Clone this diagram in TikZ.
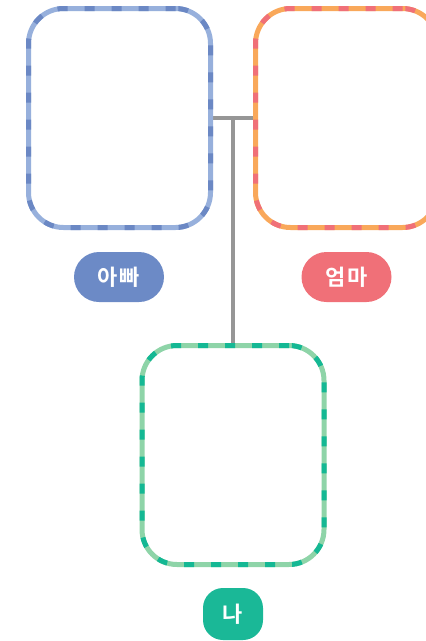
\documentclass[tikz,border=0pt]{standalone}
\usepackage{fontspec}
\usepackage{tikz}
\usetikzlibrary{backgrounds,calc}

\newfontfamily\krfont{Noto Sans CJK KR}[BoldFont={* Bold}, LetterSpace=8]

\definecolor{dadlight}{HTML}{97B0DC}
\definecolor{daddark}{HTML}{6B88C4}
\definecolor{dadpill}{HTML}{6C8AC6}
\definecolor{momlight}{HTML}{F9A85A}
\definecolor{momdark}{HTML}{F07078}
\definecolor{mompill}{HTML}{F07078}
\definecolor{melight}{HTML}{8ED4A8}
\definecolor{medark}{HTML}{14B894}
\definecolor{mepill}{HTML}{1AB897}
\definecolor{linkgray}{HTML}{969696}

\tikzset{
    frame/.style={draw=#1light, fill=white, line width=5pt, rounded corners=35pt,
        minimum width=182pt, minimum height=219pt,
        postaction={draw=#1dark, line width=5pt, dash pattern=on 10pt off 17pt}},
    pill/.style={fill=#1pill, text=white, rounded corners=25pt, inner sep=0pt,
        minimum width=90pt, minimum height=50pt,
        font=\krfont\bfseries\fontsize{22}{22}\selectfont},
    link/.style={draw=linkgray, line width=4pt}
}

\begin{document}
\begin{tikzpicture}[x=1pt,y=-1pt]
        \useasboundingbox (0,0) rectangle (426,641);
        \clip (0,0) rectangle (426,641);
        \foreach \who/\x/\y in {dad/119.5/118, mom/346.5/118, me/233/455}{
            \node[frame=\who] (\who) at (\x, \y) {};
        }
        \node[pill=dad] (dadtag) at (119, 277) {아빠};
        \node[pill=mom] (momtag) at (346.5, 277) {엄마};
        \node[pill=me, minimum width=60pt, minimum height=52pt, rounded corners=20pt] (metag) at (233, 614) {나};
        %\coordinate (join) at (233, 118);
        \coordinate (join) at ($(dad.east)!.5!(mom.west)$);
        \begin{scope}[on background layer]
            \draw[link] (dad.east) -- (mom.west);
            \draw[link] (join) -- (me.north);
        \end{scope}
    \end{tikzpicture}
\end{document}
